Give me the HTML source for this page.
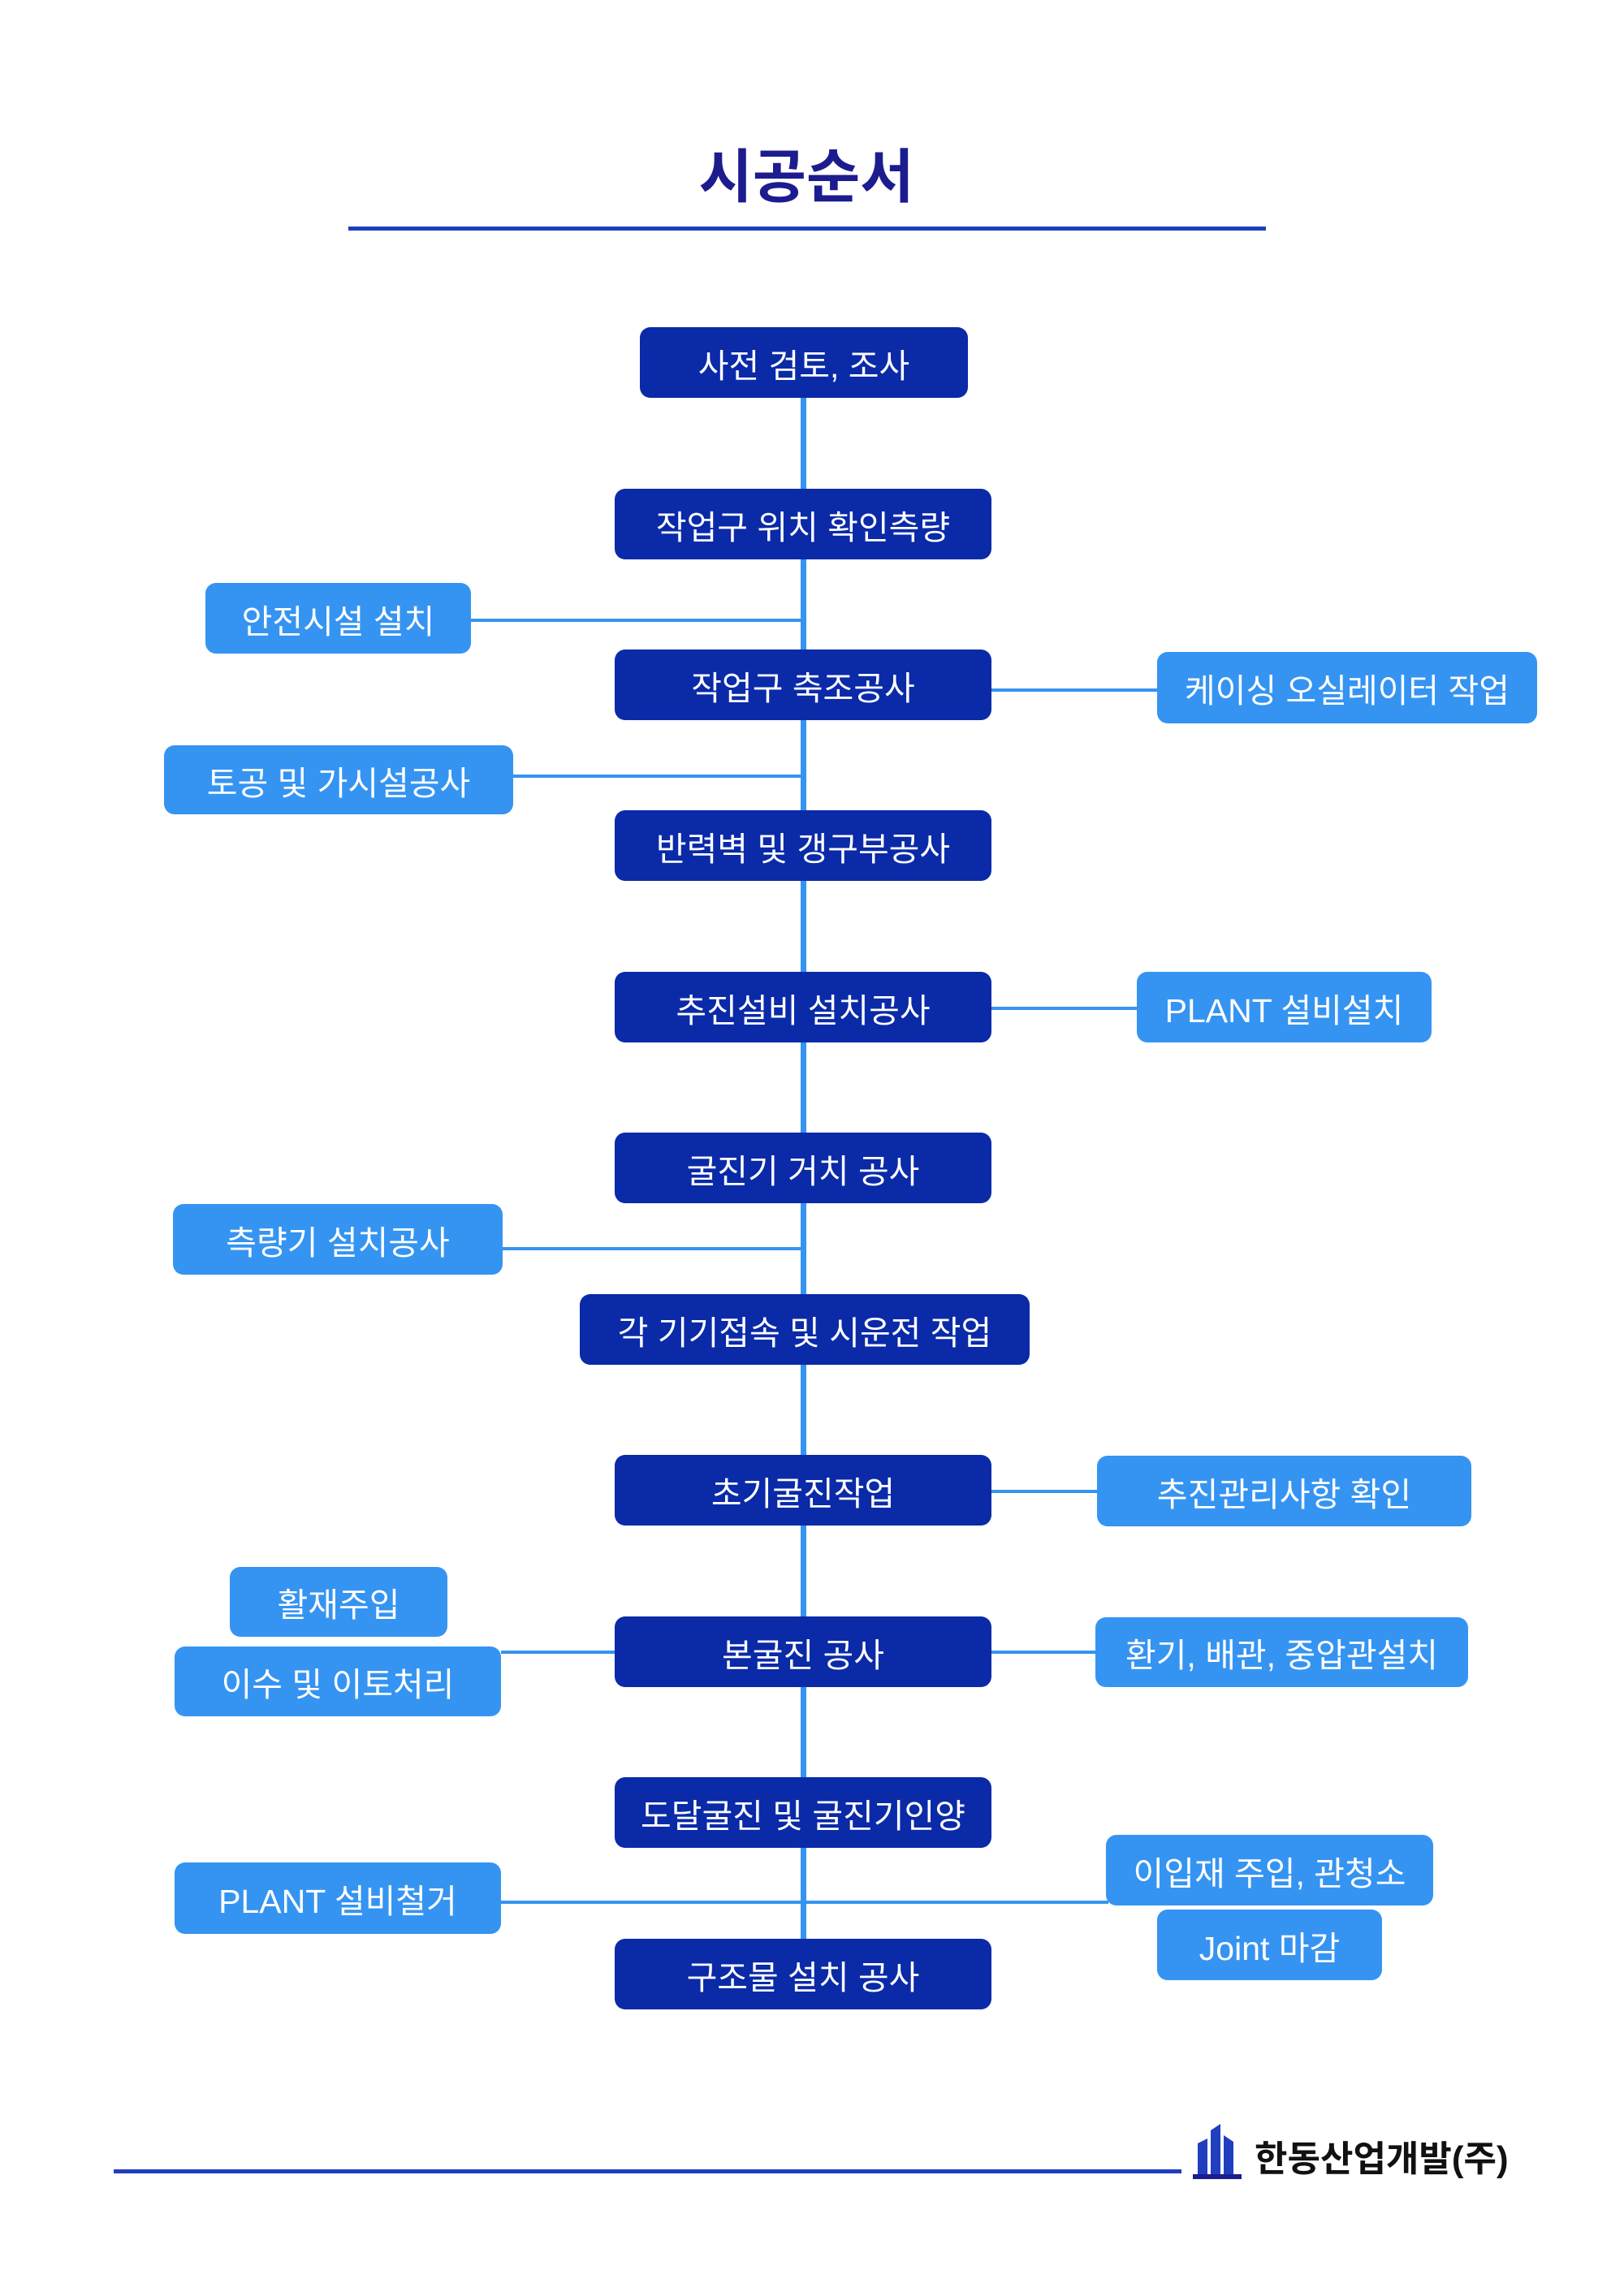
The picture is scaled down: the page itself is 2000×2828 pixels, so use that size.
<!DOCTYPE html>
<html><head><meta charset="utf-8"><style>
body{margin:0;width:2000px;height:2828px;background:#fff;position:relative;overflow:hidden;font-family:"Liberation Sans","Noto Sans CJK KR",sans-serif}
#w{position:absolute;left:-7px;top:-3px;width:2000px;height:2828px}
.b{position:absolute;display:flex;align-items:center;justify-content:center;color:#fff;font-size:41px;border-radius:13px;box-sizing:border-box;white-space:nowrap}
.d{background:#0a2aa8}
.l{background:#3594f2}
.h{position:absolute;height:4px;background:#3594f2}
</style></head><body><div id="w">
<div style="position:absolute;left:0;width:2000px;top:162px;text-align:center;font-size:72px;font-weight:bold;color:#1c1c8f">시공순서</div>
<div style="position:absolute;left:436px;width:1130px;top:282px;height:5px;background:#1f3fbf"></div>

<div style="position:absolute;left:993px;width:7px;top:490px;height:1905px;background:#3594f2"></div>

<div class="h" style="left:587px;width:410px;top:765px"></div>
<div class="h" style="left:1228px;width:205px;top:851px"></div>
<div class="h" style="left:639px;width:358px;top:957px"></div>
<div class="h" style="left:1228px;width:180px;top:1243px"></div>
<div class="h" style="left:626px;width:371px;top:1539px"></div>
<div class="h" style="left:1228px;width:132px;top:1838px"></div>
<div class="h" style="left:624px;width:142px;top:2036px"></div>
<div class="h" style="left:1228px;width:130px;top:2036px"></div>
<div class="h" style="left:624px;width:748px;top:2344px"></div>

<div class="b d" style="left:795px;width:404px;top:406px;height:87px">사전 검토, 조사</div>
<div class="b d" style="left:764px;width:464px;top:605px;height:87px">작업구 위치 확인측량</div>
<div class="b d" style="left:764px;width:464px;top:803px;height:87px">작업구 축조공사</div>
<div class="b d" style="left:764px;width:464px;top:1001px;height:87px">반력벽 및 갱구부공사</div>
<div class="b d" style="left:764px;width:464px;top:1200px;height:87px">추진설비 설치공사</div>
<div class="b d" style="left:764px;width:464px;top:1398px;height:87px">굴진기 거치 공사</div>
<div class="b d" style="left:721px;width:554px;top:1597px;height:87px">각 기기접속 및 시운전 작업</div>
<div class="b d" style="left:764px;width:464px;top:1795px;height:87px">초기굴진작업</div>
<div class="b d" style="left:764px;width:464px;top:1994px;height:87px">본굴진 공사</div>
<div class="b d" style="left:764px;width:464px;top:2192px;height:87px">도달굴진 및 굴진기인양</div>
<div class="b d" style="left:764px;width:464px;top:2391px;height:87px">구조물 설치 공사</div>

<div class="b l" style="left:260px;width:327px;top:721px;height:87px">안전시설 설치</div>
<div class="b l" style="left:1432px;width:468px;top:806px;height:88px">케이싱 오실레이터 작업</div>
<div class="b l" style="left:209px;width:430px;top:921px;height:85px">토공 및 가시설공사</div>
<div class="b l" style="left:1407px;width:363px;top:1200px;height:87px">PLANT 설비설치</div>
<div class="b l" style="left:220px;width:406px;top:1486px;height:87px">측량기 설치공사</div>
<div class="b l" style="left:1358px;width:461px;top:1796px;height:87px">추진관리사항 확인</div>
<div class="b l" style="left:290px;width:268px;top:1933px;height:86px">활재주입</div>
<div class="b l" style="left:222px;width:402px;top:2031px;height:86px">이수 및 이토처리</div>
<div class="b l" style="left:1356px;width:459px;top:1995px;height:86px">환기, 배관, 중압관설치</div>
<div class="b l" style="left:1369px;width:403px;top:2263px;height:87px">이입재 주입, 관청소</div>
<div class="b l" style="left:1432px;width:277px;top:2355px;height:87px">Joint 마감</div>
<div class="b l" style="left:222px;width:402px;top:2297px;height:88px">PLANT 설비철거</div>

<div style="position:absolute;left:147px;width:1315px;top:2675px;height:5px;background:#1f3fbf"></div>
<svg style="position:absolute;left:1474px;top:2615px" width="70" height="75" viewBox="0 0 70 75">
<path d="M8 70 V28 L20 22 V70 Z M24 70 V12 L36 4 V70 Z M40 70 V18 L52 26 V70 Z" fill="#1f3fbf"/>
<rect x="2" y="66" width="60" height="6" fill="#1c1c8f"/>
</svg>
<div style="position:absolute;left:1552px;top:2626px;font-size:44px;font-weight:bold;color:#111">한동산업개발(주)</div>
</div></body></html>
